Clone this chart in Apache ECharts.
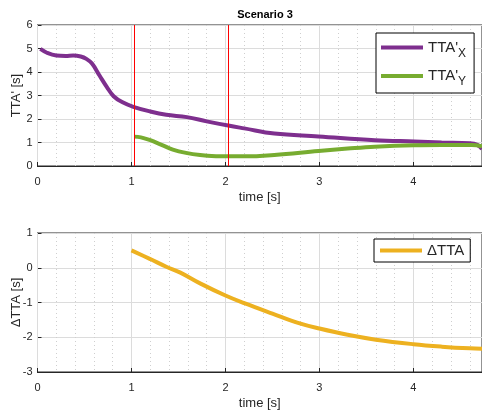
<!DOCTYPE html>
<html>
<head>
<meta charset="utf-8">
<script src="https://cdn.jsdelivr.net/npm/echarts@6/dist/echarts.min.js"></script>
<style>
  html, body { margin: 0; padding: 0; background: #fff; }
  #main { width: 482px; height: 412px; }
</style>
</head>
<body>
<div id="main"></div>
<script>
// data
var tX = [0.03, 0.1, 0.2, 0.3, 0.38, 0.46, 0.52, 0.58, 0.66, 0.74, 0.81, 0.9, 1.02, 1.2, 1.37, 1.59, 1.8, 2.03, 2.2, 2.52, 2.99, 3.59, 4.01, 4.3, 4.6, 4.68, 4.73];
var ttaX = [4.98, 4.82, 4.7, 4.68, 4.7, 4.66, 4.56, 4.36, 3.85, 3.35, 2.97, 2.72, 2.52, 2.32, 2.18, 2.08, 1.9, 1.72, 1.6, 1.38, 1.26, 1.1, 1.04, 1.0, 0.97, 0.9, 0.72];
var tY = [1.03, 1.1, 1.2, 1.32, 1.44, 1.58, 1.73, 1.9, 2.03, 2.2, 2.52, 2.99, 3.3, 3.59, 4.01, 4.3, 4.62, 4.73];
var ttaY = [1.25, 1.22, 1.1, 0.9, 0.7, 0.56, 0.47, 0.42, 0.41, 0.41, 0.47, 0.64, 0.74, 0.82, 0.88, 0.89, 0.89, 0.84];
var tD = [1.0, 1.2, 1.37, 1.52, 1.73, 2.0, 2.2, 2.5, 2.79, 3.0, 3.3, 3.6, 4.0, 4.3, 4.6, 4.73];
var dTTA = [0.5, 0.25, 0.03, -0.14, -0.45, -0.8, -1.02, -1.32, -1.6, -1.75, -1.93, -2.07, -2.2, -2.27, -2.32, -2.33];
var eventTimes = [1.03, 2.03];
var tMax = 4.73;

function pairs(xs, ys) {
    var out = [];
    for (var i = 0; i < xs.length; i++) out.push([xs[i], ys[i]]);
    return out;
}

var txt = '#262626';
var red = '#ff0000';
var font = 'Liberation Sans, Arial, sans-serif';

// main x axis (integer ticks) + hidden one for dotted 0.2 grid
function xMain(gi) {
    return {
        type: 'value', gridIndex: gi, min: 0, max: tMax, interval: 1,
        name: 'time [s]', nameLocation: 'middle', nameGap: 25, nameMoveOverlap: false,
        nameTextStyle: { color: txt, fontSize: 13, fontFamily: font },
        axisLine: { show: true, onZero: false, lineStyle: { color: txt } },
        axisTick: { show: true, inside: true, length: 4, lineStyle: { color: txt } },
        axisLabel: { color: txt, fontSize: 11, fontFamily: font, showMaxLabel: false, margin: 10 },
        splitLine: { show: true, lineStyle: { color: '#dcdcdc', width: 1 } },
        z: 3
    };
}
function xMinor(gi) {
    return {
        type: 'value', gridIndex: gi, min: 0, max: tMax, interval: 0.2,
        axisLine: { show: false }, axisTick: { show: false }, axisLabel: { show: false },
        splitLine: { show: true, lineStyle: { color: '#cfcfcf', type: [1, 3], width: 1 } },
        z: 1
    };
}
function yAx(gi, mn, mx, name) {
    return {
        type: 'value', gridIndex: gi, min: mn, max: mx, interval: 1,
        name: name, nameLocation: 'middle', nameGap: 15, nameMoveOverlap: false,
        nameTextStyle: { color: txt, fontSize: 13, fontFamily: font },
        axisLine: { show: true, onZero: false, lineStyle: { color: txt } },
        axisTick: { show: true, inside: true, length: 4, lineStyle: { color: txt } },
        axisLabel: { color: txt, fontSize: 11, fontFamily: font, margin: 5 },
        splitLine: { show: true, lineStyle: { color: '#dcdcdc', width: 1 } }
    };
}

var legendRich = {
    m: { fontSize: 15, fontFamily: font, color: txt },
    s: { fontSize: 12, fontFamily: font, color: txt, padding: [12, 0, 0, 0] }
};

var option = {
    backgroundColor: '#fff',
    animation: false,
    title: {
        text: 'Scenario 3', left: 260, top: 4, textAlign: 'center',
        textStyle: { fontSize: 11, fontWeight: 'bold', color: '#000', fontFamily: font }
    },
    grid: [
        { left: 37.5, top: 25, right: 0, height: 141, containLabel: false, outerBoundsMode: 'none',
          show: true, borderColor: txt, borderWidth: 1, backgroundColor: 'transparent' },
        { left: 37.5, top: 233, right: 0, height: 139, containLabel: false, outerBoundsMode: 'none',
          show: true, borderColor: txt, borderWidth: 1, backgroundColor: 'transparent' }
    ],
    xAxis: [xMain(0), xMinor(0), xMain(1), xMinor(1)],
    yAxis: [yAx(0, 0, 6, "TTA' [s]"), yAx(1, -3, 1, '\u0394TTA [s]')],
    legend: [
        {
            data: ['X', 'Y'], orient: 'vertical', left: 376, top: 33, width: 96,
            icon: 'rect', itemWidth: 42, itemHeight: 4, itemGap: 9,
            padding: [7, 8, 5, 5],
            borderColor: '#000', borderWidth: 1, backgroundColor: '#fff',
            formatter: function (n) { return "{m|TTA'}{s|" + n + '}'; },
            textStyle: { rich: legendRich }
        },
        {
            data: ['\u0394TTA'], left: 374, top: 239, width: 98,
            icon: 'rect', itemWidth: 42, itemHeight: 4,
            padding: [4, 6, 4, 6],
            borderColor: '#000', borderWidth: 1, backgroundColor: '#fff',
            textStyle: { fontSize: 15, fontFamily: font, color: txt }
        }
    ],
    series: [
        {
            name: 'X', type: 'line', xAxisIndex: 0, yAxisIndex: 0,
            data: pairs(tX, ttaX), smooth: 0.4, symbol: 'none',
            lineStyle: { color: '#7E2F8E', width: 4 }, itemStyle: { color: '#7E2F8E' }, z: 4,
            markLine: {
                silent: true, symbol: 'none', label: { show: false },
                emphasis: { disabled: true },
                lineStyle: { color: red, width: 1, type: 'solid', opacity: 1 },
                data: eventTimes.map(function (t) {
                    return { xAxis: t, lineStyle: { color: red, width: 1, type: 'solid' } };
                })
            }
        },
        {
            name: 'Y', type: 'line', xAxisIndex: 0, yAxisIndex: 0,
            data: pairs(tY, ttaY), smooth: 0.4, symbol: 'none',
            lineStyle: { color: '#77AC30', width: 4 }, itemStyle: { color: '#77AC30' }, z: 4
        },
        {
            name: '\u0394TTA', type: 'line', xAxisIndex: 2, yAxisIndex: 1,
            data: pairs(tD, dTTA), smooth: 0.4, symbol: 'none',
            lineStyle: { color: '#EDB120', width: 4 }, itemStyle: { color: '#EDB120' }, z: 4
        }
    ]
};

echarts.init(document.getElementById('main')).setOption(option);
</script>
</body>
</html>
